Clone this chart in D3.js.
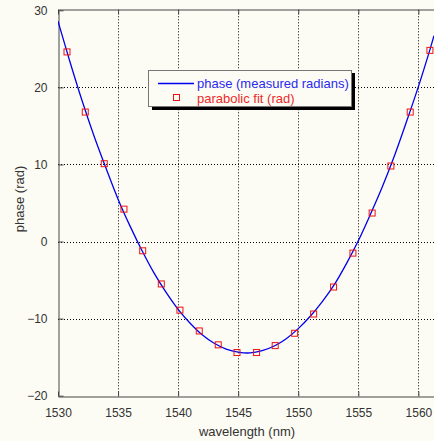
<!DOCTYPE html>
<html>
<head>
<meta charset="utf-8">
<script src="https://cdn.jsdelivr.net/npm/d3@7"></script>
<style>
  html, body { margin: 0; padding: 0; background: #fcfcf4; }
  svg { display: block; }
  text { font-family: "Liberation Sans", Arial, sans-serif; }
</style>
</head>
<body>
<svg id="chart" width="434" height="441"></svg>
<script>
// ---- data ----
const lineWavelength = [1530, 1531, 1532, 1533, 1534, 1535, 1536, 1537, 1538, 1539, 1540,
  1541, 1542, 1543, 1544, 1545, 1546, 1547, 1548, 1549, 1550, 1551, 1552, 1553, 1554,
  1555, 1556, 1557, 1558, 1559, 1560, 1561, 1561.3];
const linePhase = [28.6, 23.3, 18.3, 13.7, 9.5, 5.5, 2.0, -1.2, -4.1, -6.6, -8.8,
  -10.6, -12.1, -13.2, -13.95, -14.35, -14.45, -14.15, -13.55, -12.6, -11.3, -9.7, -7.8, -5.6, -2.9,
  0.1, 3.5, 7.1, 11.1, 15.5, 20.1, 25.1, 26.7];

const fitWavelength = [1530.75, 1532.27, 1533.85, 1535.49, 1537.05, 1538.6, 1540.15, 1541.76,
  1543.34, 1544.9, 1546.53, 1548.08, 1549.7, 1551.28, 1552.94, 1554.55, 1556.15, 1557.71,
  1559.32, 1560.96];
const fitPhase = [24.6, 16.8, 10.1, 4.2, -1.2, -5.5, -8.9, -11.6, -13.4, -14.4, -14.4, -13.5,
  -11.9, -9.4, -5.9, -1.5, 3.7, 9.8, 16.8, 24.8];

const xTicks = [1530, 1535, 1540, 1545, 1550, 1555, 1560];
const yTicks = [-20, -10, 0, 10, 20, 30];
const legendLabels = ["phase (measured radians)", "parabolic fit (rad)"];
const xLabel = "wavelength (nm)";
const yLabel = "phase (rad)";

// ---- layout ----
const svg = d3.select("#chart");
const L = 58, R = 434, T = 10.3, B = 395.7;
const x = d3.scaleLinear().domain([1530, 1561.3]).range([L, R]);
const y = d3.scaleLinear().domain([-20, 30]).range([B, T]);

const axisColor = "#444";

// grid lines
const g = svg.append("g");
g.selectAll(".vgrid").data(xTicks.filter(d => d > 1530)).enter().append("line")
  .attr("x1", d => Math.round(x(d)) + 0.5).attr("x2", d => Math.round(x(d)) + 0.5)
  .attr("y1", T).attr("y2", B)
  .attr("stroke", "#000").attr("stroke-width", 1).attr("stroke-dasharray", "1,2");
g.selectAll(".hgrid").data(yTicks.filter(d => d > -20 && d < 30)).enter().append("line")
  .attr("x1", L).attr("x2", R)
  .attr("y1", d => Math.round(y(d)) + 0.5).attr("y2", d => Math.round(y(d)) + 0.5)
  .attr("stroke", "#000").attr("stroke-width", 1).attr("stroke-dasharray", "1,2");

// axes (d3 axis, inward ticks)
const xAxisB = d3.axisBottom(x).tickValues(xTicks).tickSizeInner(-5).tickSizeOuter(0).tickPadding(12).tickFormat(d3.format("d"));
const xAxisT = d3.axisTop(x).tickValues(xTicks).tickSizeInner(-5).tickSizeOuter(0).tickFormat("");
const yAxisL = d3.axisLeft(y).tickValues(yTicks).tickSizeInner(-5).tickSizeOuter(0).tickPadding(11).tickFormat(d3.format("d"));

function styleAxis(sel) {
  sel.select(".domain").attr("stroke", axisColor);
  sel.selectAll(".tick line").attr("stroke", axisColor);
  sel.selectAll(".tick text").attr("fill", "#333").attr("font-size", 12)
    .attr("font-family", "Liberation Sans, Arial, sans-serif");
}
svg.append("g").attr("transform", `translate(0,${Math.round(B) + 0.5})`).call(xAxisB).call(styleAxis);
svg.append("g").attr("transform", `translate(0,${Math.round(T) - 0.5})`).call(xAxisT).call(styleAxis);
svg.append("g").attr("transform", `translate(${L + 0.5},0)`).call(yAxisL).call(styleAxis);

// clip for data
svg.append("clipPath").attr("id", "plotclip").append("rect")
  .attr("x", L).attr("y", T - 1).attr("width", R - L).attr("height", B - T + 1);

const data = lineWavelength.map((w, i) => [w, linePhase[i]]);
const line = d3.line().x(d => x(d[0])).y(d => y(d[1])).curve(d3.curveCatmullRom);
svg.append("path").attr("clip-path", "url(#plotclip)")
  .datum(data).attr("d", line)
  .attr("fill", "none").attr("stroke", "#0000ee").attr("stroke-width", 1.3);

const fits = fitWavelength.map((w, i) => [w, fitPhase[i]]);
svg.append("g").selectAll("rect").data(fits).enter().append("rect")
  .attr("x", d => x(d[0]) - 3).attr("y", d => y(d[1]) - 3)
  .attr("width", 6).attr("height", 6)
  .attr("fill", "none").attr("stroke", "#ee1111").attr("stroke-width", 1);

// legend
const lg = svg.append("g");
lg.append("rect").attr("x", 152).attr("y", 73).attr("width", 203).attr("height", 37).attr("fill", "#000");
lg.append("rect").attr("x", 148.5).attr("y", 70.5).attr("width", 203).attr("height", 36)
  .attr("fill", "#fcfcf4").attr("stroke", "#777").attr("stroke-width", 1);
lg.append("line").attr("x1", 158).attr("x2", 194).attr("y1", 83.5).attr("y2", 83.5)
  .attr("stroke", "#0000ee").attr("stroke-width", 1.3);
lg.append("rect").attr("x", 173.5).attr("y", 94.5).attr("width", 6).attr("height", 6)
  .attr("fill", "none").attr("stroke", "#ee1111");
lg.append("text").attr("x", 197).attr("y", 88).attr("font-size", 13).attr("fill", "#2a2aee").text(legendLabels[0]);
lg.append("text").attr("x", 197).attr("y", 102.5).attr("font-size", 13).attr("fill", "#ee2a2a").text(legendLabels[1]);

// axis labels
svg.append("text").attr("x", 247).attr("y", 436).attr("text-anchor", "middle")
  .attr("font-size", 13).attr("fill", "#333").text(xLabel);
svg.append("text").attr("transform", "translate(24,199) rotate(-90)").attr("text-anchor", "middle")
  .attr("font-size", 13).attr("fill", "#333").text(yLabel);
</script>
</body>
</html>
